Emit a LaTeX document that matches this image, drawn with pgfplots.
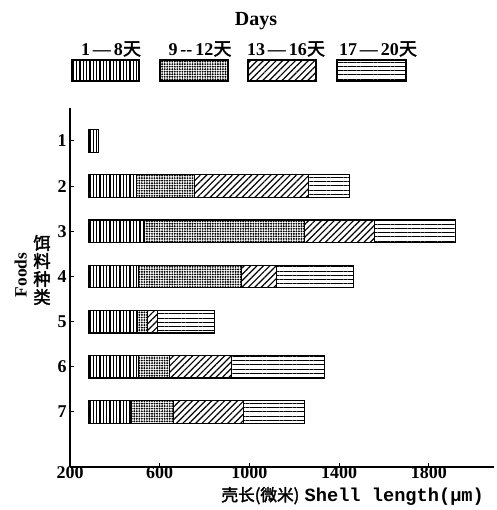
\documentclass[border=0pt]{standalone}
\usepackage{fontspec}
\setmainfont{Liberation Serif}
\setmonofont{Liberation Mono}
\newfontfamily\cjk{Noto Sans CJK SC}[AutoFakeBold=2]
\usepackage{pgfplots}
\pgfplotsset{compat=1.18}
\usetikzlibrary{patterns,patterns.meta}
\tikzset{
  pA/.style={pattern={Lines[angle=90,distance=2.5pt,line width=0.9pt]}},
  pB/.style={pattern={Dots[distance=1.9pt,radius=0.8pt]}},
  pC/.style={pattern={Lines[angle=45,distance=3.4pt,line width=0.9pt]}},
  pD/.style={pattern={Lines[angle=0,distance=3.2pt,line width=0.7pt]}},
}
\begin{document}
\begin{tikzpicture}[font=\bfseries\fontsize{13.5}{15}\selectfont]
\path[use as bounding box] (-52.5pt,-32.25pt) rectangle (320pt,350.25pt);
\begin{axis}[
  at={(0,0)}, anchor=south west, scale only axis,
  width=318pt, height=269.25pt,
  xbar stacked, bar width=17pt,
  xmin=200, xmax=2090, ymin=0.27, ymax=8.22, y dir=reverse,
  axis x line=bottom, axis y line=left,
  axis line style={-, line width=1.4pt},
  xtick={200,600,1000,1400,1800}, ytick={1,2,3,4,5,6,7},
  tick align=inside, major tick length=3pt,
  tick style={line width=0.8pt, black},
  ticklabel style={font=\bfseries\fontsize{13.5}{15}\selectfont},
  xticklabel style={yshift=4pt},
  yticklabel style={xshift=1pt},
  /pgf/number format/assume math mode=true,
  /pgf/number format/1000 sep={},
]
\addplot[draw=none, fill=none] coordinates {(285,1) (285,2) (285,3) (285,4) (285,5) (285,6) (285,7)};
\addplot[pA, draw=black, line width=0.9pt] coordinates {(42,1) (211,2) (247,3) (220,4) (215,5) (220,6) (189,7)};
\addplot[pB, draw=black, line width=0.9pt] coordinates {(0,1) (259,2) (713,3) (459,4) (45,5) (139,6) (186,7)};
\addplot[pC, draw=black, line width=0.9pt] coordinates {(0,1) (507,2) (312,3) (156,4) (45,5) (276,6) (312,7)};
\addplot[pD, draw=black, line width=0.9pt] coordinates {(0,1) (184,2) (361,3) (343,4) (255,5) (414,6) (275,7)};
\end{axis}
% legend
\node[font=\bfseries\fontsize{15}{17}\selectfont] at (139.5pt,334.5pt) {Days};
\node at (30.75pt,313.5pt) {1\,—\,8{\cjk 天}};
\node at (97.5pt,313.5pt) {9\,-{}-\,12{\cjk 天}};
\node at (162pt,313.5pt) {13\,—\,16{\cjk 天}};
\node at (231pt,313.5pt) {17\,—\,20{\cjk 天}};
\draw[pA, line width=0.9pt] (1.5pt,289.5pt) rectangle (51.75pt,305.25pt);
\draw[pB, line width=0.9pt] (67.5pt,289.5pt) rectangle (118.5pt,305.25pt);
\draw[pC, line width=0.9pt] (133.5pt,289.5pt) rectangle (184.5pt,305.25pt);
\draw[pD, line width=0.9pt] (200.25pt,289.5pt) rectangle (252pt,305.25pt);
% axis labels
\node[rotate=90, font=\bfseries\fontsize{13}{15}\selectfont] at (-37pt,144pt) {Foods};
\node[align=center, font=\cjk\bfseries\fontsize{13}{13.5}\selectfont] at (-21pt,147.75pt) {饵\\料\\种\\类};
\node[inner sep=0pt] at (212pt,-21.75pt) {{\cjk\bfseries\fontsize{12.5}{14}\selectfont 壳长(微米)}\hspace{4pt}{\ttfamily\bfseries\fontsize{14}{16}\selectfont Shell length(μm)}};
\end{tikzpicture}
\end{document}
